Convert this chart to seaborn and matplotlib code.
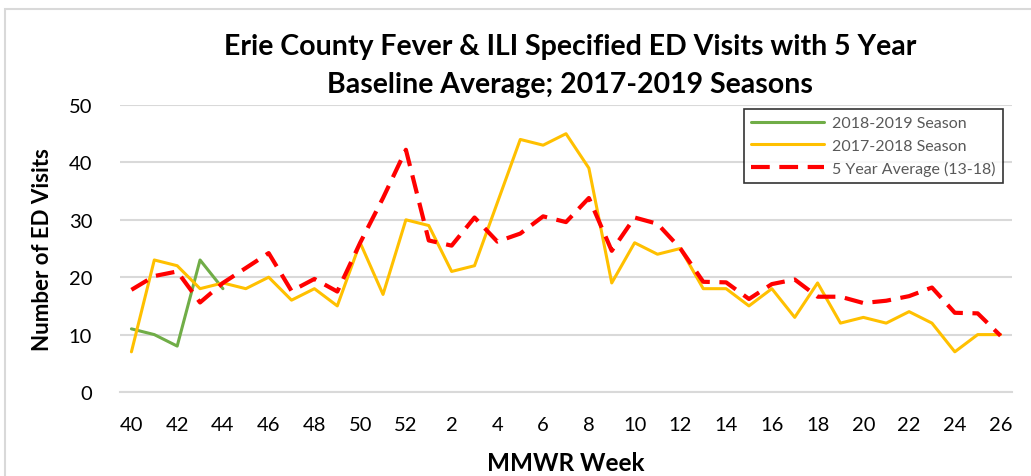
"""
Erie County Fever & ILI ED visits vs 5-year baseline
"""

import numpy as np
import pandas as pd
import matplotlib
matplotlib.use('Agg')
import matplotlib.pyplot as plt
from matplotlib.patches import Rectangle
import seaborn as sns

# ==================== data ====================
weeks = [str(w) for w in list(range(40, 53)) + list(range(1, 27))]

season_1819 = [11, 10, 8, 23, 18]

season_1718 = [7, 23, 22, 18, 19, 18, 20, 16, 18, 15, 26, 17, 30,
               29, 21, 22, 33, 44, 43, 45, 39, 19, 26, 24, 25,
               18, 18, 15, 18, 13, 19, 12, 13, 12, 14, 12, 7, 10, 10]

five_year_avg = [17.8, 20.2, 21.0, 15.6, 19.0, 21.6, 24.2, 17.6, 19.7, 17.5, 26.0, 33.8, 42.2,
                 26.4, 25.5, 30.4, 26.2, 27.6, 30.6, 29.6, 33.8, 24.6, 30.4, 29.3, 25.0,
                 19.2, 19.1, 16.2, 18.8, 19.6, 16.6, 16.6, 15.5, 15.9, 16.7, 18.2, 13.8, 13.7, 9.8]

COLORS = {
    '1819': '#70AD47',
    '1718': '#FFC000',
    'avg': '#FF0000',
    'grid': '#D9D9D9',
}

# ==================== style ====================
sns.set_theme(style='white')
plt.rcParams['font.family'] = ['Lato', 'DejaVu Sans']

fig = plt.figure(figsize=(10.31, 4.77), dpi=100)
ax = fig.add_axes([120 / 1031, 1 - 393 / 477, (1012 - 120) / 1031, (393 - 106) / 477])

# chart border (cut off at right and bottom in the original)
fig.patches.append(Rectangle((5 / 1031, -0.1), 1.2, 1 - 10 / 477 + 0.1,
                             transform=fig.transFigure, fill=False,
                             edgecolor='#D9D9D9', linewidth=1.5, zorder=0))

x_idx = np.arange(len(weeks))
df_1819 = pd.DataFrame({'x': x_idx[:len(season_1819)], 'y': season_1819})
df_1718 = pd.DataFrame({'x': x_idx, 'y': season_1718})
df_avg = pd.DataFrame({'x': x_idx, 'y': five_year_avg})

sns.lineplot(data=df_1819, x='x', y='y', ax=ax, color=COLORS['1819'],
             linewidth=2.2, label='2018-2019 Season', zorder=3)
sns.lineplot(data=df_1718, x='x', y='y', ax=ax, color=COLORS['1718'],
             linewidth=2.2, label='2017-2018 Season', zorder=4)
sns.lineplot(data=df_avg, x='x', y='y', ax=ax, color=COLORS['avg'],
             linewidth=3.0, linestyle=(0, (4.5, 2.3)), label='5 Year Average (13-18)', zorder=5)

# axes
ax.set_xlim(-0.5, len(weeks) - 0.5)
ax.set_ylim(0, 50)
ax.set_yticks(range(0, 51, 10))
ax.yaxis.grid(True, color=COLORS['grid'], linewidth=1.5)
ax.set_axisbelow(True)
for s in ['top', 'right', 'left']:
    ax.spines[s].set_visible(False)
ax.spines['bottom'].set_color(COLORS['grid'])
ax.spines['bottom'].set_linewidth(1.5)

ax.set_xticks(x_idx[::2])
ax.set_xticklabels(weeks[::2])
ax.set_xticks(np.arange(-0.5, len(weeks), 1), minor=True)
ax.tick_params(axis='x', which='major', length=0, pad=17, labelsize=14.5, labelcolor='black')
ax.tick_params(axis='x', which='minor', length=6, width=1.5, color=COLORS['grid'], direction='out')
ax.tick_params(axis='y', length=0, pad=20, labelsize=14.5, labelcolor='black')

ax.set_xlabel('MMWR Week', fontsize=17.5, fontweight='bold', color='black', labelpad=13)
ax.set_ylabel('Number of ED Visits', fontsize=16, fontweight='bold', color='black', labelpad=11)

fig.suptitle('Erie County Fever & ILI Specified ED Visits with 5 Year\nBaseline Average; 2017-2019 Seasons',
             x=570 / 1031, y=1 - 34 / 477, fontsize=20.5, fontweight='bold',
             color='black', linespacing=1.55, va='top')

leg = ax.legend(loc='upper right', bbox_to_anchor=(1003 / 1031, 1 - 110 / 477),
                bbox_transform=fig.transFigure, frameon=True, fancybox=False,
                fontsize=11.5, handlelength=4.6, labelspacing=0.5, borderpad=0.45,
                handletextpad=0.5, borderaxespad=0)
leg.get_frame().set_edgecolor('black')
leg.get_frame().set_linewidth(1.2)
for t in leg.get_texts():
    t.set_color('#595959')

fig.savefig('out.png', dpi=100)
